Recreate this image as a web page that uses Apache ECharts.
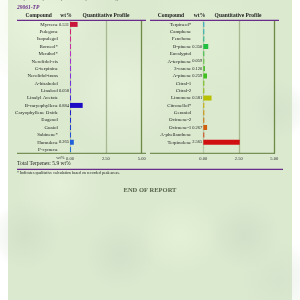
<!DOCTYPE html>
<html><head><meta charset="utf-8">
<script src="https://cdn.jsdelivr.net/npm/echarts@6/dist/echarts.min.js"></script>
<style>html,body{margin:0;padding:0;background:#fff}#c{width:300px;height:300px}</style>
</head><body><div id="c"></div>
<script>
const leftCompounds = ['Myrcene','Pulegone','Isopulegol','Borneol*','Menthol*','Nerolidol-cis','G-terpinine','Nerolidol-trans','A-bisabolol','Linalool','Linalyl Acetate','B-caryophyllene','Caryophyllene Oxide','Eugenol','Guaiol','Sabinene*','Humulene','P-cymene'];
const leftValues = [0.531,0,0,0,0,0,0,0,0,0.058,0,0.884,0,0,0,0,0.265,0];
const leftColors = ['#c8163c','#d02070','#d02a8e','#c830aa','#b830c4','#a030d0','#9030d8','#8030dc','#7030e0','#6a34e0','#4a28d8','#1c0cc4','#2020c8','#2030d0','#2040d0','#2050d8','#1f5fd8','#2070d8'];
const rightCompounds = ['Terpineol*','Camphene','Fenchone','B-pinene','Eucalyptol','A-terpinene','3-carene','A-pinene','Citral-1','Citral-2','Limonene','Citronellol*','Geraniol','Ocimene-2','Ocimene-1','A-phellandrene','Terpinolene',''];
const rightValues = [0,0,0,0.350,0,0.059,0.120,0.259,0,0,0.581,0,0,0,0.267,0,2.565,null];
const rightColors = ['#20a8c8','#20b0b0','#20b890','#22c040','#30c040','#5cc83a','#50c030','#40c020','#70c010','#90c000','#b8c000','#c8b000','#d09000','#d07000','#d06010','#d04010','#d01010','#d01010'];
const tickLabels = ['0.00','2.50','5.00'];
const totalTerpenes = '5.9';
const sampleId = '29061-TP';

const serif = '"Liberation Serif", "DejaVu Serif", serif';
const chart = echarts.init(document.getElementById('c'), null, {renderer:'canvas'});

function blob(cx, cy, r, color, a) {
  return {type:'circle', silent:true, z:-99, shape:{cx:cx, cy:cy, r:r},
    style:{fill:new echarts.graphic.RadialGradient(0.5,0.5,0.5,[
      {offset:0,color:'rgba('+color+','+a+')'},{offset:1,color:'rgba('+color+',0)'}])}};
}
function txt(x, y, text, size, opts) {
  opts = opts || {};
  return {type:'text', x:x, y:y, silent:true, z:10, style:Object.assign({text:text, fontSize:size, fontFamily:serif,
    fill:'#222', align:'left', verticalAlign:'middle'}, opts)};
}
function line(x1, y1, x2, y2, color, w) {
  return {type:'line', silent:true, z:10, shape:{x1:x1,y1:y1,x2:x2,y2:y2}, style:{stroke:color, lineWidth:w}};
}

const barSeries = (idx, values, colors) => ({
  type:'bar', xAxisIndex:idx, yAxisIndex:idx, barWidth:5, barMinHeight:1,
  data: values.map((v,i)=> v===null ? null : ({value:v, itemStyle:{color:colors[i]}})),
  label:{show:true, position:'left', distance:1, fontSize:4.5, fontFamily:serif, color:'#222',
    formatter:p => p.value > 0 ? p.value.toFixed(3) : ''},
  animation:false
});

const xAxisCfg = (idx) => ({
  type:'value', gridIndex:idx, min:0, max:5, interval:2.5,
  axisLine:{show:false}, axisTick:{show:false},
  axisLabel:{fontSize:4.5, fontFamily:serif, color:'#333', margin:3,
    formatter:(v)=> tickLabels[Math.round(v/2.5)]},
  splitLine:{show:true, lineStyle:{color:['#b8c8a8','#a8b890','#6f8a45'], width:1.3}}
});
const yAxisCfg = (idx, data) => ({
  type:'category', gridIndex:idx, data:data, inverse:true,
  axisLine:{show:false}, axisTick:{show:false}, splitLine:{show:false},
  axisLabel:{interval:0, fontSize:5, fontFamily:serif, color:'#222', margin:12}
});

chart.setOption({
  backgroundColor:'#ffffff',
  animation:false,
  grid:[
    {left:70, top:20.7, width:71.7, height:132.6, outerBoundsMode:'none', containLabel:false},
    {left:203.3, top:20.7, width:71, height:132.6, outerBoundsMode:'none', containLabel:false}
  ],
  xAxis:[xAxisCfg(0), xAxisCfg(1)],
  yAxis:[yAxisCfg(0, leftCompounds), yAxisCfg(1, rightCompounds)],
  series:[barSeries(0, leftValues, leftColors), barSeries(1, rightValues, rightColors)],
  graphic:[
    {type:'rect', silent:true, z:-100, shape:{x:8, y:0, width:284, height:300}, style:{fill:'#dbe9cf'}},
    blob(40, 20, 70, '236,246,224', 0.8),
    blob(120, 90, 60, '234,244,222', 0.7),
    blob(200, 40, 60, '226,240,214', 0.6),
    blob(60, 185, 45, '234,245,222', 0.6),
    blob(180, 235, 40, '234,246,220', 0.6),
    blob(25, 235, 35, '200,214,194', 0.45),
    blob(120, 255, 35, '202,214,196', 0.45),
    blob(245, 235, 35, '200,212,194', 0.45),
    blob(280, 110, 30, '206,218,200', 0.4),
    blob(280, 280, 40, '208,220,202', 0.4),
    txt(17, -1.5, 'Terpene analysis was performed by GC-FID using validated methods and standards.', 5, {fill:'#666'}),
    txt(17, 8, sampleId, 5.5, {fill:'#6a2c8a', fontWeight:'bold', fontStyle:'italic'}),
    txt(38.7, 16, 'Compound', 5.5, {align:'center', fontWeight:'bold'}),
    txt(66, 16, 'wt%', 5.5, {align:'center', fontWeight:'bold'}),
    txt(106, 16, 'Quantitative Profile', 5.5, {align:'center', fontWeight:'bold'}),
    txt(171, 16, 'Compound', 5.5, {align:'center', fontWeight:'bold'}),
    txt(199.5, 16, 'wt%', 5.5, {align:'center', fontWeight:'bold'}),
    txt(238, 16, 'Quantitative Profile', 5.5, {align:'center', fontWeight:'bold'}),
    line(17, 20.3, 146, 20.3, '#6a2c8a', 1.2),
    line(150, 20.3, 279, 20.3, '#6a2c8a', 1.2),
    line(17, 153.3, 146, 153.3, '#5d7a3a', 1),
    line(150, 153.3, 275, 153.3, '#5d7a3a', 1),
    txt(64.5, 158.3, 'wt%', 4.5, {align:'right', fill:'#333'}),
    txt(17, 163.7, 'Total Terpenes: ' + totalTerpenes + ' wt%', 5.5),
    line(17, 169.3, 283, 169.3, '#6a2c8a', 1.2),
    txt(17, 173.3, '* Indicates qualitative calculation based on recorded peak areas.', 4),
    txt(150, 190.7, 'END OF REPORT', 6.5, {align:'center', fontWeight:'bold', fill:'#55654a'})
  ]
});
</script>
</body></html>
